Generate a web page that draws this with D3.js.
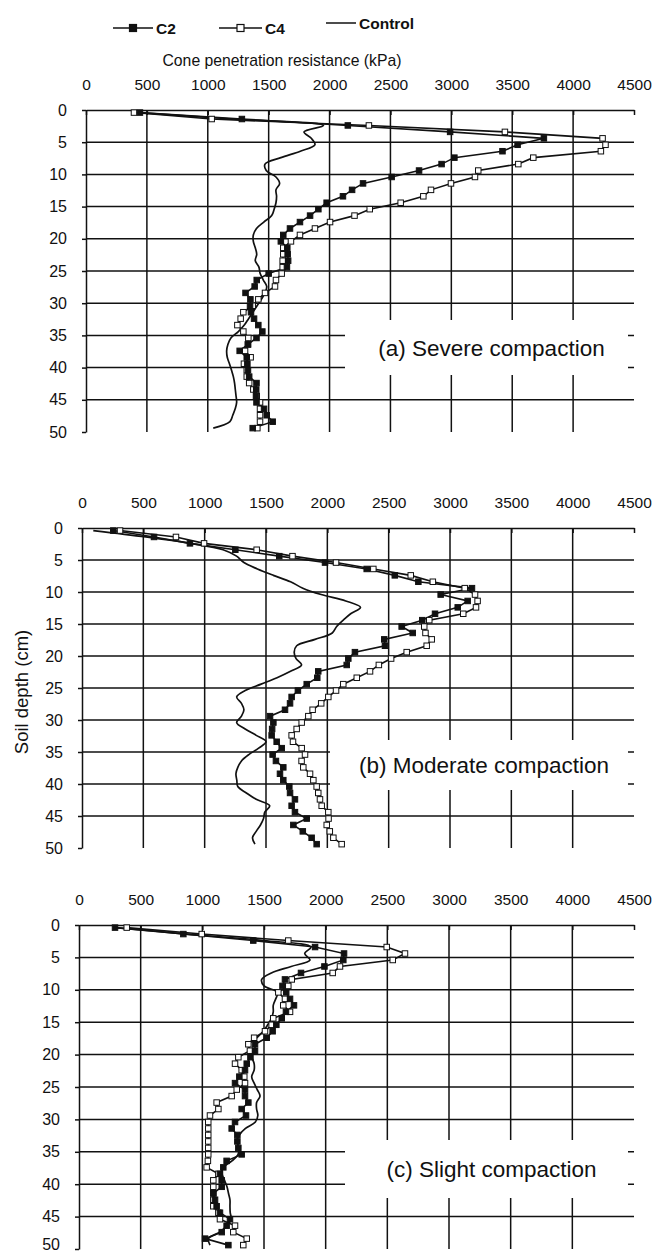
<!DOCTYPE html>
<html>
<head>
<meta charset="utf-8">
<script src="https://cdn.jsdelivr.net/npm/d3@7"></script>
<style>
  body { margin: 0; background: #fff; }
  text { font-family: Arial, "Liberation Sans", sans-serif; fill: #111; }
</style>
</head>
<body>
<div id="chart"></div>
<script>
(function () {

  // depth of each reading (cm)
  const depths = [0.4, 1.4, 2.4, 3.4, 4.4, 5.4, 6.4, 7.4, 8.4, 9.4,
    10.4, 11.4, 12.4, 13.4, 14.4, 15.4, 16.4, 17.4, 18.4, 19.4,
    20.4, 21.4, 22.4, 23.4, 24.4, 25.4, 26.4, 27.4, 28.4, 29.4,
    30.4, 31.4, 32.4, 33.4, 34.4, 35.4, 36.4, 37.4, 38.4, 39.4,
    40.4, 41.4, 42.4, 43.4, 44.4, 45.4, 46.4, 47.4, 48.4, 49.4]

  const xTicks = [0, 500, 1000, 1500, 2000, 2500, 3000, 3500, 4000, 4500]
  const yTicks = [0, 5, 10, 15, 20, 25, 30, 35, 40, 45, 50]

  // (a) severe compaction, kPa
  const severeC2 = [443, 1280, 2150, 2990, 3760, 3544, 3420, 3025, 2920, 2735,
    2510, 2275, 2185, 2110, 1976, 1908, 1840, 1757, 1675, 1620,
    1600, 1653, 1656, 1660, 1650, 1500, 1402, 1385, 1310, 1350,
    1347, 1355, 1380, 1415, 1448, 1400, 1330, 1262, 1320, 1325,
    1330, 1340, 1400, 1398, 1396, 1400, 1462, 1484, 1533, 1369]
  const severeC4 = [394, 1032, 2323, 3440, 4242, 4266, 4228, 3673, 3550, 3221,
    3194, 2997, 2833, 2770, 2584, 2330, 2205, 2004, 1880, 1757,
    1683, 1620, 1620, 1615, 1615, 1607, 1560, 1552, 1470, 1415,
    1369, 1292, 1270, 1243, 1292, 1333, 1330, 1306, 1352, 1297,
    1320, 1320, 1340, 1374, 1402, 1429, 1429, 1429, 1429, 1407]
  const severeControl = [430, 1200, 1950, 1790, 1850, 1880, 1760, 1600, 1470, 1480,
    1560, 1590, 1560, 1565, 1560, 1545, 1525, 1460, 1400, 1374,
    1374, 1390, 1402, 1390, 1420, 1430, 1456, 1484, 1470, 1440,
    1405, 1370, 1335, 1300, 1251, 1190, 1165, 1155, 1160, 1178,
    1195, 1210, 1220, 1226, 1232, 1237, 1225, 1205, 1182, 1045]

  // (b) moderate compaction, kPa
  const moderateC2 = [255, 587, 880, 1250, 1608, 1981, 2321, 2550, 2742, 3179,
    2924, 3144, 3063, 2878, 2774, 2606, 2696, 2464, 2470, 2225,
    2171, 2158, 1926, 1918, 1832, 1760, 1709, 1696, 1655, 1533,
    1560, 1550, 1546, 1587, 1628, 1554, 1581, 1641, 1614, 1641,
    1690, 1696, 1736, 1709, 1736, 1832, 1723, 1800, 1872, 1913]
  const moderateC4 = [310, 766, 995, 1424, 1716, 2071, 2375, 2680, 2860, 3120,
    3204, 3225, 3212, 3108, 2831, 2790, 2800, 2851, 2810, 2647,
    2520, 2420, 2348, 2240, 2130, 2071, 2008, 1950, 1880, 1845,
    1791, 1750, 1709, 1720, 1791, 1818, 1790, 1804, 1859, 1886,
    1913, 1926, 1940, 1954, 2008, 2010, 1995, 2020, 2049, 2117]
  const moderateControl = [92, 520, 880, 1150, 1260, 1320, 1430, 1560, 1700, 1800,
    1950, 2150, 2270, 2190, 2130, 2076, 2040, 1900, 1750, 1730,
    1745, 1790, 1700, 1590, 1460, 1330, 1261, 1300, 1320, 1300,
    1261, 1330, 1420, 1500, 1440, 1360, 1300, 1270, 1255, 1262,
    1270, 1340, 1420, 1530, 1490, 1480, 1455, 1420, 1390, 1410]

  // (c) slight compaction, kPa
  const slightC2 = [292, 846, 1413, 1914, 2149, 2143, 1990, 1800, 1670, 1650,
    1680, 1711, 1743, 1678, 1644, 1600, 1570, 1522, 1427, 1427,
    1390, 1360, 1346, 1300, 1265, 1346, 1346, 1373, 1319, 1354,
    1265, 1238, 1284, 1284, 1292, 1319, 1197, 1170, 1143, 1157,
    1157, 1089, 1103, 1116, 1143, 1224, 1197, 1157, 1022, 1211]
  const slightC4 = [387, 995, 1697, 2495, 2643, 2544, 2116, 2057, 1725, 1697,
    1616, 1670, 1656, 1711, 1575, 1562, 1508, 1420, 1373, 1386,
    1292, 1265, 1319, 1340, 1346, 1279, 1238, 1116, 1130, 1062,
    1048, 1048, 1048, 1048, 1048, 1048, 1045, 1035, 1130, 1089,
    1089, 1089, 1089, 1089, 1130, 1143, 1265, 1251, 1360, 1332]
  const slightControl = [300, 870, 1500, 1880, 1830, 1873, 1720, 1560, 1481, 1500,
    1610, 1595, 1575, 1575, 1560, 1530, 1494, 1441, 1380, 1380,
    1400, 1420, 1420, 1400, 1420, 1445, 1468, 1440, 1440, 1450,
    1430, 1350, 1300, 1280, 1295, 1290, 1240, 1170, 1160, 1180,
    1200, 1212, 1224, 1224, 1226, 1235, 1200, 1140, 1050, 1062]

  const panelLabels = ["(a) Severe compaction", "(b) Moderate compaction", "(c) Slight compaction"]

  const width = 656
  const height = 1256
  const right = 634
  const ink = "#111"

  // layout of the three stacked panels
  const panels = [
    { left: 86, top: 110, bottom: 432, box: [345, 320, 628, 375], c2: severeC2, c4: severeC4, ctrl: severeControl },
    { left: 82, top: 528, bottom: 848, box: [330, 740, 628, 790], c2: moderateC2, c4: moderateC4, ctrl: moderateControl },
    { left: 79, top: 925, bottom: 1249, box: [345, 1140, 628, 1198], c2: slightC2, c4: slightC4, ctrl: slightControl }
  ]

  const svg = d3.select("#chart").append("svg")
      .attr("width", width)
      .attr("height", height)

  panels.forEach((p, i) => {
    const x = d3.scaleLinear().domain([0, 4500]).range([p.left, right])
    const y = d3.scaleLinear().domain([0, 50]).range([p.top, p.bottom])
    const g = svg.append("g")

    // grid
    g.selectAll(".vgrid")
      .data(xTicks.filter(t => t > 0 && t < 4500))
      .join("line")
      .attr("x1", d => x(d)).attr("x2", d => x(d))
      .attr("y1", y(0)).attr("y2", y(50))
      .attr("stroke", ink).attr("stroke-width", 1.5)
    g.selectAll(".hgrid")
      .data(yTicks.filter(t => t > 0 && t < 50))
      .join("line")
      .attr("x1", x(0)).attr("x2", x(4500))
      .attr("y1", d => y(d)).attr("y2", d => y(d))
      .attr("stroke", ink).attr("stroke-width", 1.5)

    // white box behind the panel label
    const b = p.box
    g.append("rect")
      .attr("x", b[0]).attr("y", b[1])
      .attr("width", b[2] - b[0]).attr("height", b[3] - b[1])
      .attr("fill", "#fff")
    g.append("text")
      .attr("x", (b[0] + b[2]) / 2 + 5)
      .attr("y", (b[1] + b[3]) / 2)
      .attr("dy", "0.36em")
      .attr("text-anchor", "middle")
      .style("font-size", "22.5px")
      .text(panelLabels[i])

    // axes
    const xAxis = g.append("g")
      .attr("transform", "translate(0," + y(0) + ")")
      .call(d3.axisTop(x).tickValues(xTicks).tickFormat(d3.format("d"))
        .tickSize(-5).tickSizeOuter(0).tickPadding(20))
    const yAxis = g.append("g")
      .attr("transform", "translate(" + x(0) + ",0)")
      .call(d3.axisLeft(y).tickValues(yTicks).tickFormat(d3.format("d"))
        .tickSize(4).tickSizeOuter(0).tickPadding(15))
    ;[xAxis, yAxis].forEach(a => {
      a.select(".domain").attr("stroke", ink).attr("stroke-width", 1.5)
      a.selectAll(".tick line").attr("stroke", ink).attr("stroke-width", 1.5)
      a.selectAll(".tick text").style("font-size", "15.5px").attr("fill", ink)
    })
    yAxis.selectAll(".tick text").style("font-size", "16px")
    // keep the last label of the bottom panel inside the page
    if (i === 2) {
      yAxis.selectAll(".tick text").filter(d => d === 50).attr("dy", "0.05em")
    }

    // series
    const line = d3.line()
      .x(d => x(d.v))
      .y(d => y(d.d))
    const rows = arr => arr.map((v, k) => ({ v: v, d: depths[k] }))

    g.append("path")
      .datum(rows(p.ctrl))
      .attr("d", line.curve(d3.curveCatmullRom))
      .attr("fill", "none").attr("stroke", ink).attr("stroke-width", 1.7)
    line.curve(d3.curveLinear)

    g.append("path")
      .datum(rows(p.c4))
      .attr("d", line)
      .attr("fill", "none").attr("stroke", ink).attr("stroke-width", 1.6)
    g.append("path")
      .datum(rows(p.c2))
      .attr("d", line)
      .attr("fill", "none").attr("stroke", ink).attr("stroke-width", 1.6)

    const s = 5.5
    g.selectAll(".c4mark")
      .data(rows(p.c4))
      .join("rect")
      .attr("x", d => x(d.v) - s / 2).attr("y", d => y(d.d) - s / 2)
      .attr("width", s).attr("height", s)
      .attr("fill", "#fff").attr("stroke", ink).attr("stroke-width", 1)
    g.selectAll(".c2mark")
      .data(rows(p.c2))
      .join("rect")
      .attr("x", d => x(d.v) - s / 2).attr("y", d => y(d.d) - s / 2)
      .attr("width", s).attr("height", s)
      .attr("fill", ink).attr("stroke", ink).attr("stroke-width", 1)
  })

  // title above panel (a)
  svg.append("text")
    .attr("x", 282).attr("y", 66)
    .attr("text-anchor", "middle")
    .style("font-size", "15.75px")
    .text("Cone penetration resistance (kPa)")

  // y axis title
  svg.append("text")
    .attr("transform", "translate(22,692) rotate(-90)")
    .attr("text-anchor", "middle")
    .attr("dy", "0.35em")
    .style("font-size", "18.5px")
    .text("Soil depth (cm)")

  // legend
  const legend = [
    { name: "C2", x1: 113, x2: 153, ty: 28, mark: ink },
    { name: "C4", x1: 219, x2: 262, ty: 28, mark: "#fff" },
    { name: "Control", x1: 326, x2: 356, ty: 23, mark: null }
  ]
  legend.forEach(l => {
    svg.append("line")
      .attr("x1", l.x1).attr("x2", l.x2)
      .attr("y1", l.ty).attr("y2", l.ty)
      .attr("stroke", ink).attr("stroke-width", 1.5)
    if (l.mark) {
      svg.append("rect")
        .attr("x", (l.x1 + l.x2) / 2 - 3.5).attr("y", l.ty - 3.5)
        .attr("width", 7).attr("height", 7)
        .attr("fill", l.mark).attr("stroke", ink).attr("stroke-width", 1.2)
    }
    svg.append("text")
      .attr("x", l.x2 + 3).attr("y", l.ty)
      .attr("dy", "0.36em")
      .style("font-size", "15.5px").style("font-weight", "bold")
      .text(l.name)
  })

})();
</script>
</body>
</html>
